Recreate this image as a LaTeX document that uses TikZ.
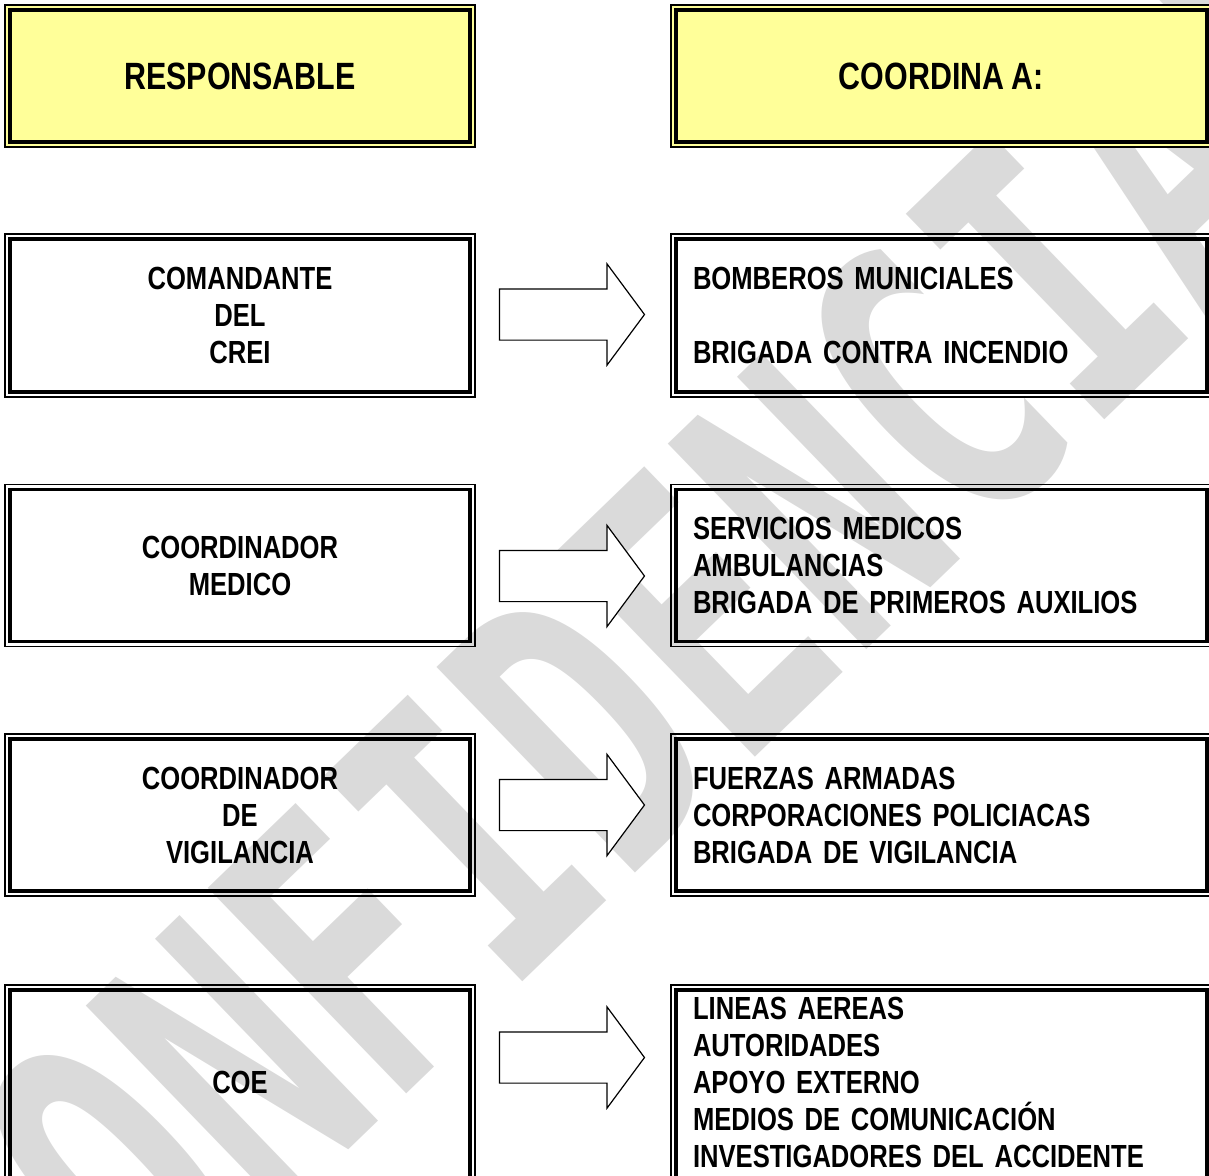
\documentclass[tikz,border=0pt]{standalone}
\usepackage{fontspec}
\newfontfamily\narrowsans{Liberation Sans}[FakeStretch=0.8]
\newfontfamily\markfont{DejaVu Sans Mono}
\usepackage{tikz}
\usetikzlibrary{shapes.arrows}
\definecolor{amarillo}{RGB}{255,255,153}
\definecolor{marca}{RGB}{218,218,218}
\newcommand{\letracaja}[2]{\narrowsans\bfseries\fontsize{#1}{#2}\selectfont\spaceskip=0.2em\relax}

\begin{document}
\begin{tikzpicture}[x=0.5pt,y=-0.5pt,
	caja/.style={draw, line width=0.7pt, outer sep=0pt, inner sep=0pt},
	titulo/.style={caja, fill=amarillo, minimum height=71pt, font=\letracaja{19}{22}},
	cajaizq/.style={caja, minimum width=235pt, align=center, font=\letracaja{16}{18.5}},
	cajader/.style={caja, minimum width=270.5pt, text width=248.5pt, inner xsep=11pt, align=left,
		font=\letracaja{16}{18.5}},
	flecha/.style={single arrow, draw, fill=white, line width=0.6pt,
		inner xsep=0pt, inner ysep=12.5pt, minimum height=72.5pt, minimum width=50pt,
		single arrow head extend=12.5pt, single arrow tip angle=107}]
	\useasboundingbox (0,0) rectangle (1209,1175);
	\clip (0,0) rectangle (1209,1175);

	% marca de agua
	\node[rotate=44, xscale=0.686, text=marca,
		font=\markfont\bfseries\fontsize{196}{196}\selectfont] (agua) at (640,670) {CONFIDENCIAL};

	% encabezados
	\node[titulo, minimum width=235pt] (resp) at (240,76) {RESPONSABLE};
	\node[titulo, minimum width=270.5pt] (coord) at (941.5,76) {COORDINA A:};

	% responsables y a quien coordinan
	\node[cajaizq, minimum height=81.5pt] (crei) at (240,315.5) {COMANDANTE\\DEL\\CREI};
	\node[cajader, minimum height=81.5pt] (bomb) at (941.5,315.5)
		{BOMBEROS MUNICIALES\\[18.5pt]BRIGADA CONTRA INCENDIO};

	\node[cajaizq, minimum height=81pt] (medico) at (240,565.5) {COORDINADOR\\MEDICO};
	\node[cajader, minimum height=81pt] (serv) at (941.5,565.5)
		{SERVICIOS MEDICOS\\AMBULANCIAS\\BRIGADA DE PRIMEROS AUXILIOS};

	\node[cajaizq, minimum height=81pt] (vigil) at (240,815) {COORDINADOR\\DE\\VIGILANCIA};
	\node[cajader, minimum height=81pt] (fuerzas) at (941.5,815)
		{FUERZAS ARMADAS\\CORPORACIONES POLICIACAS\\BRIGADA DE VIGILANCIA};

	\node[cajaizq, minimum height=102.5pt, text depth=5.5pt] (coe) at (240,1087.5) {COE};
	\node[cajader, minimum height=102.5pt, text depth=79.5pt] (lineas) at (941.5,1087.5)
		{LINEAS AEREAS\\AUTORIDADES\\APOYO EXTERNO\\MEDIOS DE COMUNICACIÓN\\INVESTIGADORES DEL ACCIDENTE};

	% marco interior grueso
	\foreach \n in {resp,coord,crei,bomb,medico,serv,vigil,fuerzas,coe,lineas}
		\draw[line width=1.75pt] ([shift={(5,5)}]\n.north west) rectangle ([shift={(-5,-5)}]\n.south east);

	% flechas
	\node[flecha] (f1) at (562.5,314.5) {};
	\node[flecha] (f2) at (562.5,576) {};
	\node[flecha] (f3) at (562.5,805) {};
	\node[flecha] (f4) at (562.5,1057.5) {};
\end{tikzpicture}
\end{document}
